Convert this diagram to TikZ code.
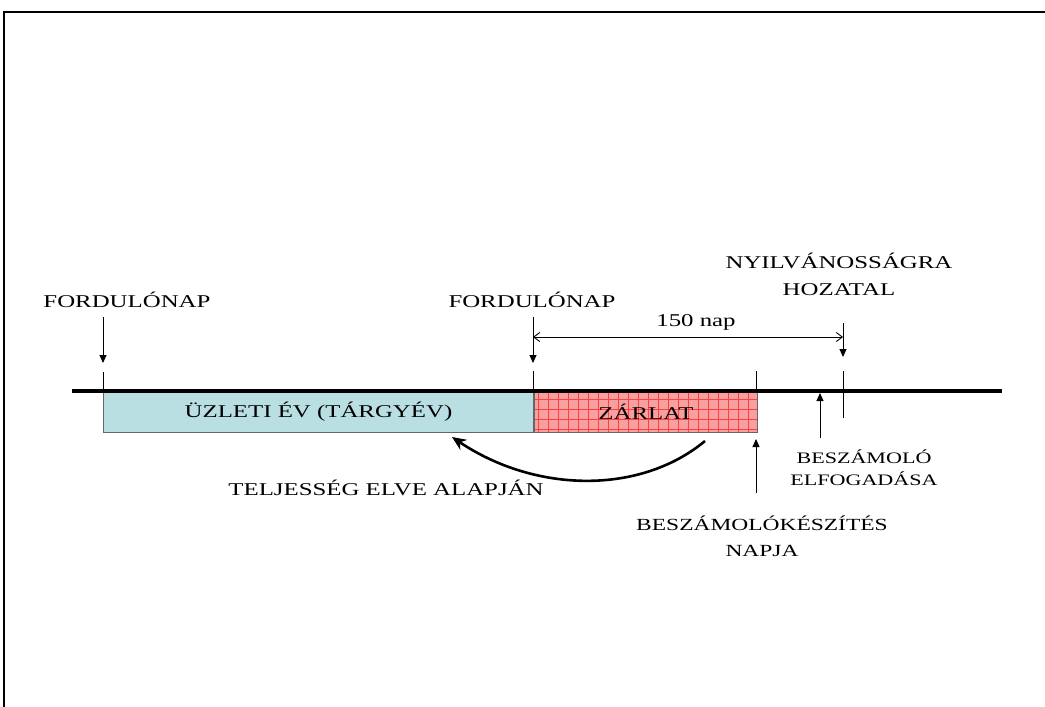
\documentclass[tikz,border=0pt]{standalone}
\usepackage{fontspec}
\setmainfont[FakeStretch=1.38]{Liberation Serif}
\usetikzlibrary{positioning,arrows.meta}
\definecolor{yearblue}{RGB}{185,223,227}
\definecolor{closepink}{RGB}{248,160,160}
\tikzset{big text/.style={font=\fontsize{18}{27}\selectfont,align=center,inner sep=0pt},
small text/.style={font=\fontsize{16}{22}\selectfont,align=center,inner sep=0pt},
period box/.style={draw=black!60,line width=1pt,minimum height=41pt,inner sep=0pt,font=\fontsize{18}{22}\selectfont,fill=#1},
thin line/.style={line width=0.9pt},
point arrow/.style={line width=0.9pt,-{Triangle[width=7pt,length=8pt]}}}

\begin{document}
\begin{tikzpicture}[x=1pt,y=-1pt]
\useasboundingbox (0,0) rectangle (1045,707);
\draw[line width=2pt] (4,707) -- (4,12) -- (1045,12);
% periods
\node[period box=yearblue,minimum width=430pt,anchor=north west] (year) at (103,391) {ÜZLETI ÉV (TÁRGYÉV)};
\node[period box=closepink,minimum width=223pt,right=0pt of year,
  path picture={\draw[red!75,line width=0.5pt,step=10pt] (path picture bounding box.south west) grid (path picture bounding box.north east);}] (close) {ZÁRLAT};
\draw[line width=4pt] (72,391) -- (1002,391);
% labels
\node[big text] (turn1) at (127,300) {FORDULÓNAP};
\node[big text] (turn2) at (532,300) {FORDULÓNAP};
\node[big text] (publish) at (839,274) {NYILVÁNOSSÁGRA\\HOZATAL};
\node[big text] (days) at (696,322) {150 nap};
\node[small text] (accept) at (864,468) {BESZÁMOLÓ\\ELFOGADÁSA};
\node[font=\fontsize{17}{26}\selectfont,align=center,inner sep=0pt] (prepare) at (762,536) {BESZÁMOLÓKÉSZÍTÉS\\NAPJA};
\node[big text] (complete) at (386,488) {TELJESSÉG ELVE ALAPJÁN};
% points on the time line
\coordinate (t1 top) at (103,317);   \coordinate (t1 tip) at (103,363);   \coordinate (t1 mark) at (103,372);
\coordinate (t2 top) at (533,317);   \coordinate (t2 tip) at (533,363);   \coordinate (t2 mark) at (533,371);
\coordinate (pub top) at (843,323);  \coordinate (pub tip) at (843,357);  \coordinate (pub mark) at (843,371);
\coordinate (pub low) at (843,418);
\coordinate (prep mark) at (756,371);
\coordinate (acc foot) at (820,438); \coordinate (acc tip) at (820,393);
\coordinate (prep foot) at (756,493); \coordinate (prep tip) at (756,439);
\draw[thin line] (t1 mark) -- (t1 mark |- year.north);
\draw[thin line] (t2 mark) -- (t2 mark |- year.north);
\draw[thin line] (prep mark) -- (prep mark |- close.north);
\draw[thin line] (pub mark) -- (pub low);
\draw[point arrow] (t1 top) -- (t1 tip);
\draw[point arrow] (t2 top) -- (t2 tip);
\draw[point arrow] (pub top) -- (pub tip);
\draw[point arrow] (acc foot) -- (acc tip);
\draw[point arrow] (prep foot) -- (prep tip);
\draw[thin line,{Straight Barb[length=6pt,width=9pt]}-{Straight Barb[length=6pt,width=9pt]}] (533,337) -- (843,337);
\draw[line width=2.6pt,-{Stealth[length=14pt,width=12pt]}] (705,441) .. controls (640,495) and (535,493) .. (452,437);
\end{tikzpicture}
\end{document}
